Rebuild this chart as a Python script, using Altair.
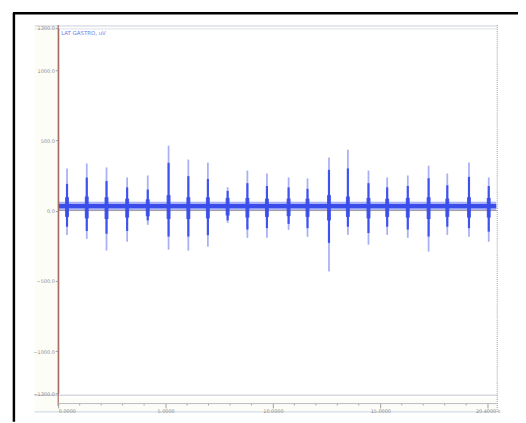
import altair as alt
import pandas as pd

# Burst times (s) and amplitudes (uV)
burst_t = [0.41, 1.33, 2.25, 3.21, 4.17, 5.14, 6.06, 6.97, 7.89, 8.81, 9.72,
           10.73, 11.61, 12.61, 13.49, 14.45, 15.32, 16.28, 17.25, 18.12, 19.13, 20.05]
peak_hi = [300, 335, 307, 236, 250, 462, 363, 342, 166, 285, 264,
           236, 229, 377, 433, 285, 236, 250, 320, 264, 342, 236]
peak_lo = [-173, -201, -285, -222, -102, -278, -285, -257, -88, -194, -194,
           -137, -187, -433, -173, -243, -173, -194, -292, -173, -187, -222]
core_hi = [190, 235, 210, 165, 150, 340, 245, 225, 140, 195, 175,
           165, 155, 290, 300, 195, 165, 175, 230, 180, 240, 175]
core_lo = [-115, -145, -165, -145, -70, -185, -185, -175, -70, -135, -125,
           -95, -125, -230, -115, -160, -115, -135, -185, -115, -125, -150]
body_hi = [95, 100, 95, 85, 80, 110, 95, 95, 90, 90, 85,
           85, 85, 110, 100, 90, 85, 90, 95, 85, 95, 90]
body_lo = [-45, -55, -60, -50, -40, -60, -60, -55, -35, -50, -45,
           -40, -45, -70, -45, -55, -45, -50, -60, -45, -50, -50]

band_t = [0.0, 20.4]
band_lo = [16, 16]
band_hi = [46, 46]
fringe_lo = [4, 4]
fringe_hi = [62, 62]

y_ticks = [-1300, -1000, -500, 0, 500, 1000, 1300]
x_ticks = [0, 5, 10, 15, 20]
x_labels = ["0.0000", "5.0000", "10.0000", "15.0000", "20.4000 s"]
x_minor = [1, 2, 3, 4, 6, 7, 8, 9, 11, 12, 13, 14, 16, 17, 18, 19]

bursts = pd.DataFrame({"t": burst_t, "hi": peak_hi, "lo": peak_lo,
                       "chi": core_hi, "clo": core_lo,
                       "bhi": body_hi, "blo": body_lo})
band = pd.DataFrame({"t0": [band_t[0]], "t1": [band_t[1]],
                     "lo": [band_lo[0]], "hi": [band_hi[0]],
                     "flo": [fringe_lo[0]], "fhi": [fringe_hi[0]]})
minor = pd.DataFrame({"m": x_minor})

W, H = 446, 371
XD = [0, 20.45]
YD = [-1300, 1300]

xs = alt.Scale(domain=XD, nice=False, zero=False)
ys = alt.Scale(domain=YD, nice=False, zero=False)

LIGHT = "#a9b1f4"
CORE = "#3f52ee"
DARK = "#3a4dea"
CREAM = "#fdfdf8"

label_map = "{" + ", ".join(f"'{v}': '{l}'" for v, l in zip(x_ticks, x_labels)) + "}"
x_axis = alt.Axis(values=x_ticks,
                  labelExpr=f"{label_map}[datum.value + '']",
                  labelFontSize=5, labelColor="#888888", labelFont="DejaVu Sans",
                  labelAlign={"condition": {"test": "datum.value === 0", "value": "left"}, "value": "center"},
                  labelOverlap=False,
                  tickColor="#a0a0a0", tickSize=5,
                  domainColor="#b8bcc4", offset=10, labelPadding=1, grid=False, title=None,
                  labelFlush=False, zindex=2)
y_axis = alt.Axis(values=y_ticks, format=".1f", labelFontSize=5, labelColor="#888888",
                  labelFont="DejaVu Sans", tickColor="#a0a0a0", tickSize=3,
                  domainColor="#a56a5e", domainWidth=1.2, labelPadding=1, grid=False, title=None,
                  labelOverlap=False, zindex=2)

base = alt.Chart(bursts)

# decorative background / frame
deco = pd.DataFrame({"k": [0]})
dbase = alt.Chart(deco)
cream_y = dbase.mark_rect(color=CREAM).encode(
    x=alt.value(-24), x2=alt.value(-1), y=alt.value(-3), y2=alt.value(390))
cream_x = dbase.mark_rect(color=CREAM).encode(
    x=alt.value(-24), x2=alt.value(W), y=alt.value(376), y2=alt.value(390))
frame_left = dbase.mark_rule(color="#000000", strokeWidth=2.5).encode(
    x=alt.value(-45), y=alt.value(-15), y2=alt.value(400))
frame_top = dbase.mark_rule(color="#000000", strokeWidth=2.5).encode(
    x=alt.value(-46), x2=alt.value(480), y=alt.value(-15))
top_line1 = dbase.mark_rule(color="#c9ced8", strokeWidth=1).encode(
    x=alt.value(-24), x2=alt.value(W), y=alt.value(-2))
top_line2 = dbase.mark_rule(color="#dde0e8", strokeWidth=1).encode(
    x=alt.value(-24), x2=alt.value(W), y=alt.value(1))
bot_line = dbase.mark_rule(color="#c0c4cc", strokeWidth=1).encode(
    x=alt.value(-24), x2=alt.value(W), y=alt.value(H + 2))
bot_line2 = dbase.mark_rule(color="#c8d4e4", strokeWidth=1).encode(
    x=alt.value(-24), x2=alt.value(W), y=alt.value(390))
right_line = dbase.mark_rule(color="#b8bcc4", strokeWidth=1.5, strokeDash=[1, 1]).encode(
    x=alt.value(W), y=alt.value(-3), y2=alt.value(390))
left_ext = dbase.mark_rule(color="#a56a5e", strokeWidth=1.2).encode(
    x=alt.value(0), y=alt.value(-3), y2=alt.value(384))
title = dbase.mark_text(text="LAT GASTRO, uV", color="#6a7cea", fontSize=5.5,
                        align="left", baseline="middle", font="DejaVu Sans").encode(
    x=alt.value(3), y=alt.value(5))

minor_ticks = alt.Chart(minor).mark_rule(color="#a8a8a8", strokeWidth=1).encode(
    x=alt.X("m:Q", scale=xs), y=alt.value(H + 10), y2=alt.value(H + 12.5))

zero_line = dbase.mark_rule(color="#999999", strokeWidth=1).encode(
    y=alt.datum(0, scale=ys))

fringe = alt.Chart(band).mark_rect(color="#8d99f2", opacity=0.75).encode(
    x=alt.X("t0:Q", scale=xs, axis=x_axis), x2="t1:Q",
    y=alt.Y("flo:Q", scale=ys, axis=y_axis), y2="fhi:Q")
core_band = alt.Chart(band).mark_rect(color=DARK).encode(
    x=alt.X("t0:Q", scale=xs), x2="t1:Q",
    y=alt.Y("lo:Q", scale=ys), y2="hi:Q")

light = base.mark_rule(color=LIGHT, strokeWidth=1.8).encode(
    x=alt.X("t:Q", scale=xs), y=alt.Y("lo:Q", scale=ys), y2="hi:Q")
core = base.mark_rule(color=CORE, strokeWidth=2.2).encode(
    x=alt.X("t:Q", scale=xs), y=alt.Y("clo:Q", scale=ys), y2="chi:Q")
body = base.mark_rule(color=DARK, strokeWidth=4, opacity=0.9).encode(
    x=alt.X("t:Q", scale=xs), y=alt.Y("blo:Q", scale=ys), y2="bhi:Q")

chart = alt.layer(
    cream_y, cream_x, top_line1, top_line2, bot_line, bot_line2, right_line,
    fringe, core_band, zero_line, light, core, body, left_ext, minor_ticks,
    frame_left, frame_top, title
).properties(
    width=W, height=H,
    padding={"left": 51, "top": 17, "right": 21, "bottom": 27},
    autosize=alt.AutoSizeParams(type="none"),
    background="#ffffff",
).configure_view(stroke=None)

chart.save("out.html", embed_options={"renderer": "svg", "actions": False})
